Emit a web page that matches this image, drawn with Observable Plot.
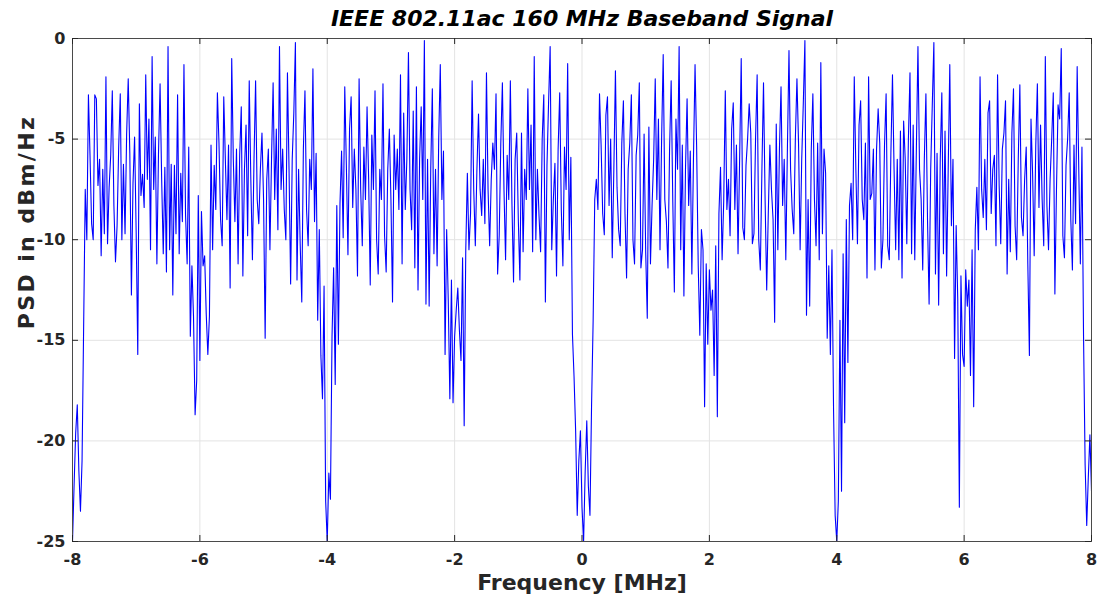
<!DOCTYPE html>
<html>
<head>
<meta charset="utf-8">
<script src="https://cdn.jsdelivr.net/npm/d3@7"></script>
<script src="https://cdn.jsdelivr.net/npm/@observablehq/plot@0.6"></script>
<style>
  html, body { margin: 0; padding: 0; background: #ffffff; }
  #chart { width: 1097px; height: 595px; }
</style>
</head>
<body>
<div id="chart"></div>
<script>
const title = "IEEE 802.11ac 160 MHz Baseband Signal";
const xLabel = "Frequency [MHz]";
const yLabel = "PSD in dBm/Hz";
const xTicks = [-8, -6, -4, -2, 0, 2, 4, 6, 8];
const yTicks = [-25, -20, -15, -10, -5, 0];

// sample grid of the spectrum (MHz)
const freqStart = -8;
const freqStep = 0.025;

// PSD values (dBm/Hz), one row per MHz
const psd = [
  -25.0, -22.2, -19.6, -18.2, -21.5, -23.5, -21.0, -14.3, -7.5, -10.0,
  -2.8, -5.8, -9.2, -10.0, -2.8, -3.0, -7.3, -6.0, -10.8, -6.5,
  -9.7, -1.9, -10.2, -7.4, -5.8, -2.6, -8.3, -11.1, -9.3, -5.4,
  -2.75, -10.0, -6.25, -9.7, -4.75, -2.0, -5.7, -12.75, -7.2, -4.9,

  -9.7, -15.7, -3.25, -7.8, -6.75, -8.4, -1.8, -7.0, -4.0, -10.5,
  -0.9, -7.5, -4.9, -11.2, -5.75, -2.25, -7.0, -10.7, -6.4, -11.6,
  -0.4, -10.5, -6.25, -12.75, -6.3, -9.7, -2.8, -10.7, -6.7, -9.1,
  -1.3, -8.75, -11.2, -5.4, -14.8, -11.3, -13.8, -18.7, -17.0, -7.8,

  -16.0, -8.6, -11.3, -10.8, -13.7, -15.7, -13.8, -5.3, -10.5, -6.3,
  -8.5, -2.7, -5.2, -9.0, -10.3, -2.9, -6.0, -9.0, -5.3, -12.4,
  -1.0, -6.0, -9.1, -5.5, -11.2, -5.8, -3.4, -11.8, -6.5, -4.3,
  -9.8, -2.1, -7.0, -11.0, -6.0, -2.1, -8.0, -9.2, -6.5, -4.7,

  -8.0, -14.9, -7.0, -5.5, -10.5, -6.0, -2.2, -8.0, -4.5, -9.5,
  -0.4, -7.5, -5.5, -8.5, -10.0, -1.7, -6.5, -12.2, -6.0, -3.7,
  -0.2, -12.0, -6.5, -10.2, -13.1, -5.5, -2.6, -8.5, -10.3, -6.0,
  -7.5, -1.5, -9.1, -5.7, -14.0, -9.5, -15.75, -17.9, -12.3, -23.0,

  -25.0, -21.6, -22.9, -14.8, -11.4, -17.2, -8.3, -15.2, -8.2, -5.6,
  -9.9, -2.4, -6.3, -10.75, -4.5, -2.9, -8.4, -5.5, -7.5, -11.8,
  -2.0, -7.5, -10.3, -5.4, -8.0, -3.4, -7.0, -12.25, -4.8, -7.5,
  -2.6, -10.0, -11.7, -6.5, -8.0, -2.25, -9.8, -11.6, -6.5, -4.5,

  -8.0, -13.1, -4.8, -7.5, -5.5, -8.5, -1.8, -11.2, -3.7, -8.5,
  -6.0, -0.7, -7.5, -9.5, -3.6, -11.4, -2.4, -12.5, -6.0, -3.4,
  -8.0, -0.1, -13.2, -6.0, -13.3, -6.5, -2.5, -10.7, -6.5, -11.3,
  -5.0, -1.3, -8.0, -5.6, -15.7, -9.5, -13.0, -17.9, -12.0, -18.1,

  -14.8, -13.5, -12.4, -14.5, -16.0, -10.9, -19.25, -10.5, -6.7, -10.5,
  -8.7, -2.1, -7.5, -10.3, -6.5, -3.75, -7.5, -8.8, -6.0, -9.2,
  -1.7, -7.5, -10.3, -7.0, -5.2, -6.5, -2.75, -11.7, -9.8, -5.2,
  -2.2, -7.5, -11.0, -5.8, -8.0, -2.1, -8.2, -12.1, -6.0, -4.7,

  -9.0, -12.0, -4.7, -10.6, -6.5, -8.0, -2.5, -7.5, -4.3, -10.6,
  -0.9, -10.0, -6.5, -8.8, -10.6, -5.0, -2.8, -13.1, -6.3, -3.2,
  -0.4, -10.5, -8.0, -6.2, -11.8, -5.5, -2.7, -8.5, -11.3, -5.4,
  -7.5, -1.25, -10.0, -5.9, -14.7, -16.8, -19.5, -23.7, -21.0, -19.5,

  -23.3, -25.0, -21.5, -19.0, -22.25, -23.7, -18.25, -14.0, -8.0, -7.0,
  -8.5, -2.75, -5.3, -8.7, -9.75, -3.8, -2.9, -8.3, -5.0, -10.9,
  -6.5, -1.6, -7.4, -9.5, -10.3, -5.2, -3.1, -8.7, -11.9, -6.5,
  -5.2, -2.8, -10.0, -11.2, -5.8, -4.8, -2.2, -11.4, -10.5, -4.75,

  -10.6, -13.9, -4.4, -11.2, -8.3, -6.0, -2.0, -8.0, -4.0, -10.5,
  -5.0, -0.8, -8.0, -9.1, -11.4, -5.5, -2.1, -8.0, -12.6, -4.0,
  -6.5, -0.4, -10.5, -5.3, -12.8, -6.5, -3.0, -8.3, -5.6, -11.7,
  -6.0, -1.3, -5.4, -11.3, -14.75, -9.5, -10.5, -18.3, -11.2, -15.2,

  -11.5, -13.5, -12.5, -16.75, -10.3, -18.8, -8.7, -6.4, -11.0, -8.1,
  -2.6, -8.5, -7.0, -9.8, -4.5, -3.2, -8.5, -5.3, -10.7, -6.0,
  -1.0, -9.4, -10.0, -6.3, -5.0, -3.25, -4.7, -10.2, -9.7, -5.0,
  -1.8, -10.0, -11.5, -6.5, -2.2, -8.0, -12.5, -8.7, -5.3, -7.5,

  -9.0, -14.1, -4.25, -10.5, -5.5, -2.4, -8.3, -6.0, -11.0, -5.5,
  -0.6, -6.5, -8.5, -9.7, -5.0, -2.0, -5.2, -10.5, -6.0, -3.2,
  -0.1, -13.75, -8.0, -13.3, -5.5, -2.75, -8.0, -10.3, -5.2, -11.0,
  -1.2, -9.7, -5.5, -6.7, -14.9, -11.3, -15.7, -10.5, -18.5, -23.7,

  -25.0, -23.0, -14.0, -22.5, -10.7, -19.1, -9.0, -16.1, -8.3, -7.2,
  -10.0, -1.9, -6.5, -10.2, -4.3, -3.1, -8.0, -9.0, -5.2, -11.9,
  -1.9, -8.0, -7.7, -5.5, -11.5, -5.5, -3.5, -5.2, -11.4, -10.0,
  -5.3, -2.75, -10.3, -11.0, -5.7, -1.8, -6.5, -10.5, -6.0, -11.0,

  -4.6, -11.9, -4.1, -6.0, -10.2, -5.0, -1.7, -10.7, -4.3, -11.0,
  -5.5, -0.4, -6.5, -8.0, -11.5, -6.0, -2.75, -9.0, -13.2, -6.5,
  -3.3, -0.2, -11.7, -5.7, -13.25, -6.0, -2.7, -10.7, -4.6, -11.8,
  -6.5, -1.3, -9.3, -6.0, -15.9, -9.3, -13.0, -23.3, -11.8, -15.7,

  -16.3, -11.5, -13.3, -12.0, -16.75, -10.5, -18.3, -9.5, -7.4, -10.5,
  -1.9, -7.5, -8.9, -6.0, -9.5, -3.7, -3.1, -8.7, -6.5, -5.8,
  -10.3, -1.8, -7.3, -10.2, -5.5, -4.7, -3.1, -11.7, -7.0, -10.6,
  -4.7, -2.5, -9.3, -11.0, -6.0, -2.3, -8.9, -9.8, -7.0, -5.4,

  -11.2, -15.75, -4.0, -6.7, -10.8, -5.3, -2.25, -8.4, -4.3, -8.0,
  -10.3, -0.9, -8.3, -10.5, -7.0, -5.0, -2.7, -12.7, -7.5, -3.3,
  -4.0, -0.5, -9.8, -10.9, -6.3, -5.0, -2.7, -9.0, -11.5, -5.3,
  -9.2, -1.4, -6.5, -11.2, -5.4, -14.8, -21.2, -24.2, -21.8, -19.7,
  -22.5
];

const samples = psd.map((v, i) => ({ freq: freqStart + i * freqStep, psd: v }));

const W = 1097, H = 595;
const mL = 72, mR = 6, mT = 38, mB = 54;
const innerW = W - mL - mR;
const innerH = H - mT - mB;
const tickLen = 6;
const ink = "#262626";
const gridColor = "#e3e3e3";

const chart = Plot.plot({
  width: W,
  height: H,
  marginLeft: mL,
  marginRight: mR,
  marginTop: mT,
  marginBottom: mB,
  style: {
    fontFamily: "'DejaVu Sans', 'Liberation Sans', sans-serif",
    fontWeight: "bold",
    fontSize: "16px",
    background: "#ffffff",
    color: ink,
    overflow: "visible"
  },
  x: { domain: [-8, 8] },
  y: { domain: [-25, 0] },
  marks: [
    Plot.gridX(xTicks, { stroke: gridColor, strokeOpacity: 1, strokeWidth: 1 }),
    Plot.gridY(yTicks, { stroke: gridColor, strokeOpacity: 1, strokeWidth: 1 }),
    Plot.line(samples, { x: "freq", y: "psd", stroke: "#0000ff", strokeWidth: 1.1, clip: true }),
    Plot.frame({ stroke: "#4a4a4a", strokeWidth: 1 }),
    // inward tick marks on all four sides
    Plot.tickX(xTicks, { x: d => d, insetTop: innerH - tickLen, stroke: ink }),
    Plot.tickX(xTicks, { x: d => d, insetBottom: innerH - tickLen, stroke: ink }),
    Plot.tickY(yTicks, { y: d => d, insetRight: innerW - tickLen, stroke: ink }),
    Plot.tickY(yTicks, { y: d => d, insetLeft: innerW - tickLen, stroke: ink }),
    Plot.axisX(xTicks, { anchor: "bottom", tickSize: 0, tickPadding: 12, tickFormat: d => String(d), label: null, fontSize: 16, fill: ink }),
    Plot.axisY(yTicks, { anchor: "left", tickSize: 0, tickPadding: 7, tickFormat: d => String(d), label: null, fontSize: 16, fill: ink }),
    Plot.text([title], { text: d => d, frameAnchor: "top", lineAnchor: "middle", dy: -20, fontSize: 22, fontStyle: "italic", fontWeight: "bold", fill: "#000000" }),
    Plot.text([xLabel], { text: d => d, frameAnchor: "bottom", lineAnchor: "bottom", dy: 48, fontSize: 22, fontWeight: "bold", fill: ink }),
    Plot.text([yLabel], { text: d => d, frameAnchor: "left", textAnchor: "middle", lineAnchor: "middle", rotate: -90, dx: -46, dy: -68, fontSize: 22, fontWeight: "bold", fill: ink })
  ]
});

// MATLAB-style wide spacing of the y-axis label
chart.querySelectorAll("text").forEach(t => {
  if (t.textContent === yLabel) t.style.letterSpacing = "2.4px";
});

document.getElementById("chart").appendChild(chart);
</script>
</body>
</html>
